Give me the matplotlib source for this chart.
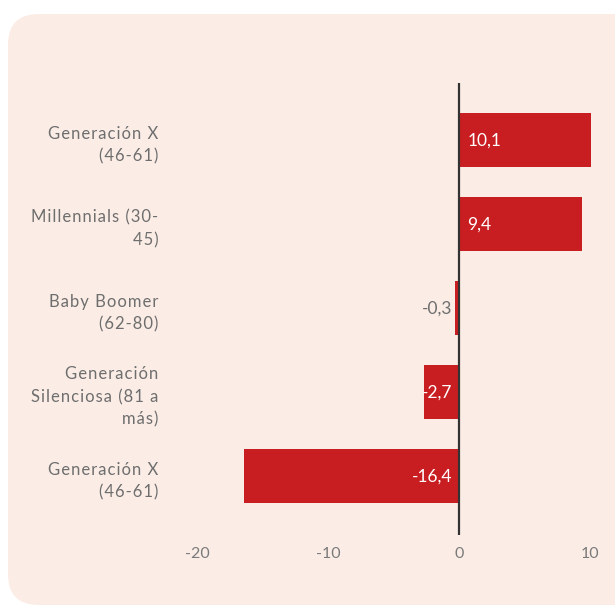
import matplotlib
matplotlib.use("Agg")
import matplotlib.pyplot as plt
from matplotlib.patches import FancyBboxPatch

# data
categories = ["Generación X\n(46-61)",
              "Millennials (30-\n45)",
              "Baby Boomer\n(62-80)",
              "Generación\nSilenciosa (81 a\nmás)",
              "Generación X\n(46-61)"]
values = [10.1, 9.4, -0.3, -2.7, -16.4]
value_labels = ["10,1", "9,4", "-0,3", "-2,7", "-16,4"]
xticks = [-20, -10, 0, 10]

plt.rcParams['font.family'] = ['Lato', 'DejaVu Sans']


def spaced(s):
    # the original labels are letter-spaced; fake it with hair spaces
    return "\n".join("\u200a".join(line) for line in s.split("\n"))


fig = plt.figure(figsize=(6.15, 6.1), dpi=100, facecolor='white')

# rounded panel behind the chart
bg = FancyBboxPatch((8/615, 1-605/610), 1.2, (605-14)/610,
                    boxstyle="round,pad=0,rounding_size=0.05",
                    transform=fig.transFigure, facecolor='#FBEDE6',
                    edgecolor='none', zorder=-5)
fig.patches.append(bg)

ax = fig.add_axes([170.8/615, 1-535/610, (616.2-170.8)/615, (535-83)/610])
ax.set_facecolor('none')
ax.set_zorder(2)

pos = list(range(len(values)))
ax.barh(pos, values, height=0.64, color='#C91E21', zorder=2)
ax.axvline(0, color='#333333', lw=1.6, zorder=3)

for y, v, lab in zip(pos, values, value_labels):
    if v >= 0:
        ax.annotate(lab, (0, y), xytext=(6, 0), textcoords='offset points',
                    ha='left', va='center', color='white', fontsize=12.5)
    else:
        inside = abs(v) > 1
        ax.annotate(lab, (0, y), xytext=(-5, 0), textcoords='offset points',
                    ha='right', va='center',
                    color='white' if inside else '#6E6E6E', fontsize=12.5)

ax.set_xlim(-22, 12)
ax.set_ylim(4.7, -0.68)
ax.set_xticks(xticks)
ax.set_xticklabels([str(t) for t in xticks], color='#7A7A7A', fontsize=11.5)
ax.set_yticks(pos)
ax.set_yticklabels([spaced(c) for c in categories], color='#6E6E6E',
                   fontsize=12, linespacing=1.5)
ax.tick_params(axis='both', length=0)
ax.tick_params(axis='x', pad=9)
ax.tick_params(axis='y', pad=9)
for s in ax.spines.values():
    s.set_visible(False)

fig.savefig("out.png", dpi=100, facecolor='white')
